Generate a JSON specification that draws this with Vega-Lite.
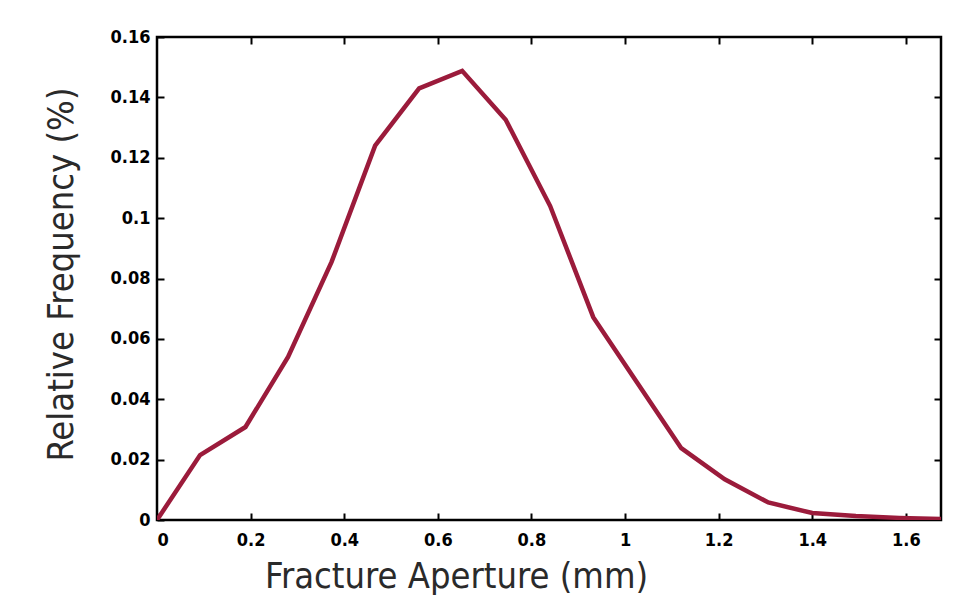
{
  "$schema": "https://vega.github.io/schema/vega-lite/v6.json",
  "width": 784,
  "height": 483,
  "autosize": "none",
  "padding": {"left": 157, "top": 37, "right": 16, "bottom": 86},
  "background": "white",
  "config": {
    "view": {"stroke": "black", "strokeWidth": 2.5},
    "axis": {
      "domain": false,
      "grid": false,
      "ticks": true,
      "tickColor": "black",
      "tickWidth": 2,
      "tickSize": -7,
      "labelFont": "DejaVu Sans Condensed, Liberation Sans, sans-serif",
      "labelFontWeight": "bold",
      "labelFontSize": 18,
      "labelColor": "black",
      "titleFont": "DejaVu Sans Condensed, Liberation Sans, sans-serif",
      "titleFontWeight": "normal",
      "titleFontSize": 36,
      "titleColor": "#2a2a2a"
    }
  },
  "data": {
    "values": [
      {"aperture": 0.0, "freq": 0.0},
      {"aperture": 0.092, "freq": 0.0215},
      {"aperture": 0.189, "freq": 0.0308},
      {"aperture": 0.28, "freq": 0.054},
      {"aperture": 0.373, "freq": 0.0855},
      {"aperture": 0.466, "freq": 0.124},
      {"aperture": 0.56, "freq": 0.143},
      {"aperture": 0.652, "freq": 0.1488},
      {"aperture": 0.745, "freq": 0.1326},
      {"aperture": 0.84, "freq": 0.104},
      {"aperture": 0.932, "freq": 0.0672},
      {"aperture": 1.026, "freq": 0.0455},
      {"aperture": 1.12, "freq": 0.0238},
      {"aperture": 1.213, "freq": 0.0135},
      {"aperture": 1.306, "freq": 0.0058},
      {"aperture": 1.4, "freq": 0.0023},
      {"aperture": 1.493, "freq": 0.0013},
      {"aperture": 1.586, "freq": 0.0007},
      {"aperture": 1.68, "freq": 0.0003}
    ]
  },
  "layer": [
    {
      "mark": {"type": "line", "color": "#9b1b3b", "strokeWidth": 4.5, "clip": true},
      "encoding": {
        "x": {
          "field": "aperture", "type": "quantitative",
          "scale": {"domain": [0, 1.675], "nice": false, "zero": false},
          "axis": {"values": [0, 0.2, 0.4, 0.6, 0.8, 1, 1.2, 1.4, 1.6], "format": "~g", "labelPadding": 18, "title": "Fracture Aperture (mm)", "titlePadding": 10, "titleX": 299}
        },
        "y": {
          "field": "freq", "type": "quantitative",
          "scale": {"domain": [0, 0.16], "nice": false},
          "axis": {"values": [0, 0.02, 0.04, 0.06, 0.08, 0.1, 0.12, 0.14, 0.16], "format": "~g", "labelPadding": 14, "title": "Relative Frequency (%)", "titlePadding": 30, "titleY": 237}
        }
      }
    },
    {
      "mark": {"type": "line", "strokeOpacity": 0},
      "encoding": {
        "x": {
          "field": "aperture", "type": "quantitative",
          "axis": {"orient": "top", "values": [0.2, 0.4, 0.6, 0.8, 1, 1.2, 1.4, 1.6], "labels": false, "title": null}
        },
        "y": {
          "field": "freq", "type": "quantitative",
          "axis": {"orient": "right", "values": [0.02, 0.04, 0.06, 0.08, 0.1, 0.12, 0.14], "labels": false, "title": null}
        }
      }
    }
  ],
  "resolve": {"axis": {"x": "independent", "y": "independent"}}
}
